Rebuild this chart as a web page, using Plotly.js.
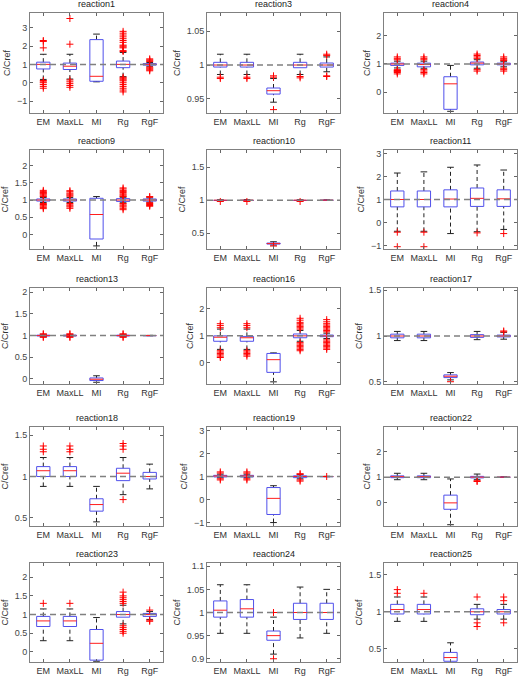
<!DOCTYPE html>
<html>
<head>
<meta charset="utf-8">
<script src="https://cdn.plot.ly/plotly-3.0.1.min.js"></script>
<style>
  html, body { margin: 0; padding: 0; background: #fff; }
  #chart { width: 532px; height: 682px; }
</style>
</head>
<body>
<div id="chart"></div>
<script>
// Estimation methods compared in every panel
const methods = ['EM', 'MaxLL', 'MI', 'Rg', 'RgF'];

const reactionNames = ['reaction1', 'reaction3', 'reaction4', 'reaction9', 'reaction10', 'reaction11',
  'reaction13', 'reaction16', 'reaction17', 'reaction18', 'reaction19', 'reaction22',
  'reaction23', 'reaction24', 'reaction25'];

// y-axis extents and ticks per panel
const yRanges = [[-1.65, 3.8], [0.929, 1.077], [-0.73, 2.8], [-0.42, 2.45], [0.26, 1.76], [-1.15, 3.15],
  [-0.12, 2.1], [-0.78, 2.77], [0.475, 1.525], [0.4, 1.6], [-1.15, 3.15], [-0.9, 2.95],
  [-0.27, 2.38], [0.893, 1.107], [0.32, 1.66]];
const yTicks = [[-1, 0, 1, 2, 3], [0.95, 1, 1.05], [0, 1, 2], [0, 0.5, 1, 1.5, 2], [0.5, 1, 1.5], [-1, 0, 1, 2, 3],
  [0, 0.5, 1, 1.5, 2], [0, 1, 2], [0.5, 1, 1.5], [0.5, 1, 1.5], [-1, 0, 1, 2, 3], [0, 1, 2],
  [0, 0.5, 1, 1.5, 2], [0.9, 0.95, 1, 1.05, 1.1], [0.5, 1, 1.5]];

// Box statistics: one row per reaction, one column per method
const q1 = [
  [0.75, 0.72, 0.08, 0.82, 0.96],
  [0.997, 0.997, 0.957, 0.996, 0.997],
  [0.95, 0.9, -0.6, 0.97, 0.97],
  [0.97, 0.97, -0.13, 0.96, 0.97],
  [0.996, 0.996, 0.335, 0.996, 0.998],
  [0.68, 0.68, 0.68, 0.7, 0.7],
  [0.99, 0.99, -0.04, 0.99, 0.998],
  [0.8, 0.8, -0.35, 0.93, 0.97],
  [0.98, 0.98, 0.545, 0.985, 0.99],
  [1.0, 1.0, 0.58, 0.95, 0.97],
  [0.98, 0.98, -0.65, 0.95, 0.995],
  [0.98, 0.98, -0.25, 0.97, 0.995],
  [0.68, 0.68, -0.22, 0.93, 0.95],
  [0.99, 0.99, 0.94, 0.985, 0.985],
  [0.97, 0.97, 0.33, 0.96, 0.97]
];
const medians = [
  [1.0, 0.9, 0.35, 1.0, 1.0],
  [1.0, 1.0, 0.962, 1.0, 1.0],
  [1.0, 0.98, 0.3, 1.03, 1.0],
  [1.0, 1.0, 0.58, 1.0, 1.0],
  [1.0, 1.0, 0.342, 1.0, 1.0],
  [1.0, 1.0, 1.02, 1.05, 1.03],
  [1.0, 1.0, -0.01, 1.0, 1.0],
  [0.95, 0.93, 0.12, 1.0, 1.0],
  [1.0, 1.0, 0.56, 1.0, 1.0],
  [1.07, 1.07, 0.66, 1.04, 1.0],
  [1.02, 1.02, 0.05, 1.0, 1.0],
  [1.02, 1.02, 0.0, 1.0, 1.0],
  [0.83, 0.83, 0.23, 1.0, 1.0],
  [1.005, 1.008, 0.95, 1.0, 1.0],
  [1.03, 1.03, 0.38, 1.0, 1.0]
];
const q3 = [
  [1.12, 1.07, 2.35, 1.18, 1.04],
  [1.004, 1.004, 0.966, 1.004, 1.003],
  [1.03, 1.03, 0.55, 1.07, 1.03],
  [1.03, 1.03, 1.05, 1.04, 1.03],
  [1.003, 1.003, 0.35, 1.003, 1.002],
  [1.37, 1.37, 1.42, 1.5, 1.42],
  [1.01, 1.01, 0.02, 1.01, 1.002],
  [1.0, 0.98, 0.35, 1.07, 1.03],
  [1.02, 1.02, 0.575, 1.015, 1.01],
  [1.12, 1.12, 0.73, 1.1, 1.05],
  [1.05, 1.05, 0.52, 1.03, 1.005],
  [1.05, 1.05, 0.3, 1.03, 1.005],
  [0.95, 0.95, 0.6, 1.08, 1.03],
  [1.025, 1.028, 0.96, 1.02, 1.02],
  [1.1, 1.1, 0.45, 1.04, 1.03]
];
const lowerWhisker = [
  [0.18, 0.2, 0.05, 0.33, 0.9],
  [0.986, 0.986, 0.945, 0.986, 0.99],
  [0.86, 0.85, -0.67, 0.85, 0.9],
  [0.93, 0.93, -0.33, 0.92, 0.94],
  [0.99, 0.99, 0.32, 0.99, 0.995],
  [-0.38, -0.38, -0.48, -0.4, -0.3],
  [0.98, 0.98, -0.08, 0.98, 0.995],
  [0.5, 0.5, -0.7, 0.8, 0.9],
  [0.95, 0.95, 0.52, 0.96, 0.965],
  [0.88, 0.88, 0.45, 0.78, 0.85],
  [0.95, 0.95, -1.0, 0.9, 0.99],
  [0.9, 0.9, -0.85, 0.9, 0.99],
  [0.3, 0.3, -0.25, 0.75, 0.87],
  [0.955, 0.955, 0.91, 0.945, 0.955],
  [0.87, 0.87, 0.28, 0.9, 0.9]
];
const upperWhisker = [
  [1.55, 1.55, 2.65, 1.65, 1.1],
  [1.016, 1.016, 0.98, 1.016, 1.012],
  [1.1, 1.1, 0.95, 1.15, 1.08],
  [1.07, 1.07, 1.1, 1.08, 1.06],
  [1.008, 1.008, 0.37, 1.008, 1.005],
  [2.15, 2.2, 2.4, 2.5, 2.28],
  [1.02, 1.02, 0.07, 1.02, 1.005],
  [1.25, 1.25, 0.37, 1.2, 1.1],
  [1.05, 1.05, 0.6, 1.05, 1.04],
  [1.23, 1.23, 0.88, 1.23, 1.15],
  [1.1, 1.1, 0.6, 1.08, 1.01],
  [1.15, 1.15, 0.93, 1.12, 1.01],
  [1.15, 1.15, 0.92, 1.25, 1.08],
  [1.06, 1.06, 0.99, 1.055, 1.05],
  [1.2, 1.2, 0.58, 1.1, 1.1]
];
// Outlying runs per reaction and method
const outliers = [
  [[2.3, 2.25, 1.9, 0.12, 0.05, 0.0, -0.1, -0.2, -0.3],
   [3.5, 2.1, 0.15, 0.05, -0.05, -0.15, -0.25],
   [],
   [2.8, 2.7, 2.6, 2.5, 2.4, 2.3, 2.2, 2.05, 2.0, 1.95, 1.9, 1.75, 1.7, 0.3, 0.25, 0.2, 0.15, 0.1, 0.0, -0.1, -0.2, -0.3, -0.4, -0.5],
   [1.3, 1.25, 1.2, 1.15, 0.85, 0.8, 0.75, 0.7, 0.65]],
  [[0.982, 0.98], [0.982, 0.98], [0.984, 0.982, 0.934], [0.983, 0.981], [1.016, 1.014, 0.984, 0.983]],
  [[1.25, 1.2, 1.15, 0.8, 0.77, 0.75, 0.73, 0.7, 0.65],
   [1.25, 1.2, 1.15, 0.8, 0.75, 0.7, 0.65],
   [],
   [1.35, 1.3, 1.25, 1.2, 0.8, 0.75],
   [1.25, 1.2, 1.15, 1.12, 0.85, 0.8, 0.75]],
  [[1.28, 1.25, 1.22, 1.2, 1.18, 1.15, 1.12, 1.1, 0.9, 0.87, 0.85, 0.82, 0.78, 0.75],
   [1.27, 1.24, 1.2, 1.17, 1.14, 1.11, 0.9, 0.86, 0.83, 0.8, 0.76],
   [],
   [1.35, 1.32, 1.28, 1.25, 1.22, 1.18, 1.15, 1.12, 1.1, 0.9, 0.86, 0.83, 0.8, 0.76, 0.72],
   [1.1, 1.08, 0.92, 0.9, 0.87, 0.84, 0.82]],
  [[0.98], [0.98], [0.305], [0.98], []],
  [[-0.42, -1.05], [-0.42, -1.05], [], [-0.45], [-0.48]],
  [[1.04, 1.03, 0.97, 0.96], [1.04, 1.03, 0.97, 0.96], [], [1.04, 1.03, 0.97, 0.96], []],
  [[1.45, 1.38, 1.3, 0.45, 0.4, 0.35, 0.3, 0.25, 0.2],
   [1.45, 1.38, 1.3, 0.45, 0.4, 0.35, 0.3, 0.25],
   [],
   [1.65, 1.58, 1.5, 1.45, 1.4, 1.35, 1.3, 1.25, 0.75, 0.7, 0.65, 0.6, 0.55, 0.5, 0.45],
   [1.6, 1.52, 1.45, 1.4, 1.35, 1.3, 1.25, 1.2, 1.15, 0.85, 0.8, 0.75, 0.7, 0.65, 0.6, 0.55, 0.5]],
  [[], [], [0.5], [], [1.055, 1.045]],
  [[1.37, 1.33, 1.3], [1.37, 1.33, 1.3], [], [1.4, 1.37, 1.33, 0.72], []],
  [[1.2, 1.15, 0.9, 0.85], [1.2, 1.15, 0.9, 0.85], [], [1.12, 1.1, 0.85, 0.8], [1.0]],
  [[], [], [], [0.86, 0.83], []],
  [[1.3], [1.3], [], [1.6, 1.5, 1.45, 1.4, 1.35, 1.3, 0.7, 0.65, 0.6, 0.55, 0.5], [1.12, 0.85, 0.82]],
  [[], [], [1.0, 0.9], [], []],
  [[1.3, 1.25], [1.25], [], [1.2, 0.85, 0.8], [1.2, 1.15, 0.85]]
];

// Panel placement in pixels (left/right, top/bottom) on a 532x682 page
const W = 532, H = 682;
const colPx = [[30, 163], [207, 340], [384, 517]];
const rowPx = [[13, 113], [150, 249], [288, 384], [427, 526], [563, 662]];

const BOX_HALF = 0.25, CAP_HALF = 0.125;
const BOX_COLOR = 'rgb(80,80,235)';
const MED_COLOR = 'rgb(255,30,30)';
const OUT_COLOR = 'rgb(255,0,0)';
const FONT = 'Liberation Sans, Arial, sans-serif';

const traces = [];
const layout = {
  width: W, height: H,
  margin: {l: 0, r: 0, t: 0, b: 0},
  paper_bgcolor: '#fff', plot_bgcolor: '#fff',
  showlegend: false,
  font: {family: FONT, size: 9, color: '#333'},
  annotations: [], shapes: []
};

reactionNames.forEach((name, i) => {
  const col = i % 3, row = Math.floor(i / 3);
  const xa = 'x' + (i + 1), ya = 'y' + (i + 1);
  const xKey = 'xaxis' + (i + 1), yKey = 'yaxis' + (i + 1);
  const [l, r] = colPx[col], [t, b] = rowPx[row];

  layout[xKey] = {
    domain: [l / W, r / W], anchor: ya,
    range: [0.5, methods.length + 0.5],
    tickvals: methods.map((m, k) => k + 1), ticktext: methods,
    ticks: 'inside', ticklen: 3, tickcolor: '#666',
    showline: true, linecolor: '#808080', linewidth: 1, mirror: 'ticks',
    showgrid: false, zeroline: false, fixedrange: true,
    tickfont: {size: 9, color: '#333'}
  };
  layout[yKey] = {
    domain: [1 - b / H, 1 - t / H], anchor: xa,
    range: yRanges[i], tickvals: yTicks[i],
    ticks: 'inside', ticklen: 3, tickcolor: '#666',
    showline: true, linecolor: '#808080', linewidth: 1, mirror: 'ticks',
    showgrid: false, zeroline: false, fixedrange: true,
    tickfont: {size: 9, color: '#444'},
    title: {text: 'C/Cref', font: {size: 9, color: '#333'}, standoff: 4}
  };

  layout.annotations.push({
    text: name, xref: 'paper', yref: 'paper',
    x: (l + r) / 2 / W, y: 1 - (t - 2) / H,
    xanchor: 'center', yanchor: 'bottom', showarrow: false,
    font: {size: 9, color: '#222'}
  });

  // reference level C/Cref = 1
  layout.shapes.push({
    type: 'line', xref: xa + ' domain', yref: ya,
    x0: 0, x1: 1, y0: 1, y1: 1,
    line: {color: 'rgb(128,128,128)', width: 1.5, dash: '6px,4px'}, layer: 'above'
  });

  const wx = [], wy = [], cx = [], cy = [], bx = [], by = [], mx = [], my = [], ox = [], oy = [];
  methods.forEach((m, k) => {
    const p = k + 1;
    const a = q1[i][k], md = medians[i][k], c = q3[i][k];
    const lo = lowerWhisker[i][k], hi = upperWhisker[i][k];
    wx.push(p, p, null, p, p, null); wy.push(c, hi, null, lo, a, null);
    cx.push(p - CAP_HALF, p + CAP_HALF, null, p - CAP_HALF, p + CAP_HALF, null);
    cy.push(hi, hi, null, lo, lo, null);
    bx.push(p - BOX_HALF, p + BOX_HALF, p + BOX_HALF, p - BOX_HALF, p - BOX_HALF, null);
    by.push(a, a, c, c, a, null);
    mx.push(p - BOX_HALF, p + BOX_HALF, null); my.push(md, md, null);
    outliers[i][k].forEach(v => { ox.push(p); oy.push(v); });
  });

  traces.push({type: 'scatter', mode: 'lines', x: wx, y: wy, xaxis: xa, yaxis: ya,
    line: {color: '#222', width: 1, dash: '4px,3px'}, hoverinfo: 'skip'});
  traces.push({type: 'scatter', mode: 'lines', x: cx, y: cy, xaxis: xa, yaxis: ya,
    line: {color: '#222', width: 1}, hoverinfo: 'skip'});
  traces.push({type: 'scatter', mode: 'lines', x: bx, y: by, xaxis: xa, yaxis: ya,
    line: {color: BOX_COLOR, width: 1}, hoverinfo: 'skip'});
  traces.push({type: 'scatter', mode: 'lines', x: mx, y: my, xaxis: xa, yaxis: ya,
    line: {color: MED_COLOR, width: 1}, hoverinfo: 'skip'});
  traces.push({type: 'scatter', mode: 'markers', x: ox, y: oy, xaxis: xa, yaxis: ya,
    marker: {symbol: 'cross-thin-open', size: 5, color: OUT_COLOR, line: {color: OUT_COLOR, width: 1}},
    hoverinfo: 'skip'});
});

Plotly.newPlot('chart', traces, layout, {staticPlot: true, displayModeBar: false});
</script>
</body>
</html>
